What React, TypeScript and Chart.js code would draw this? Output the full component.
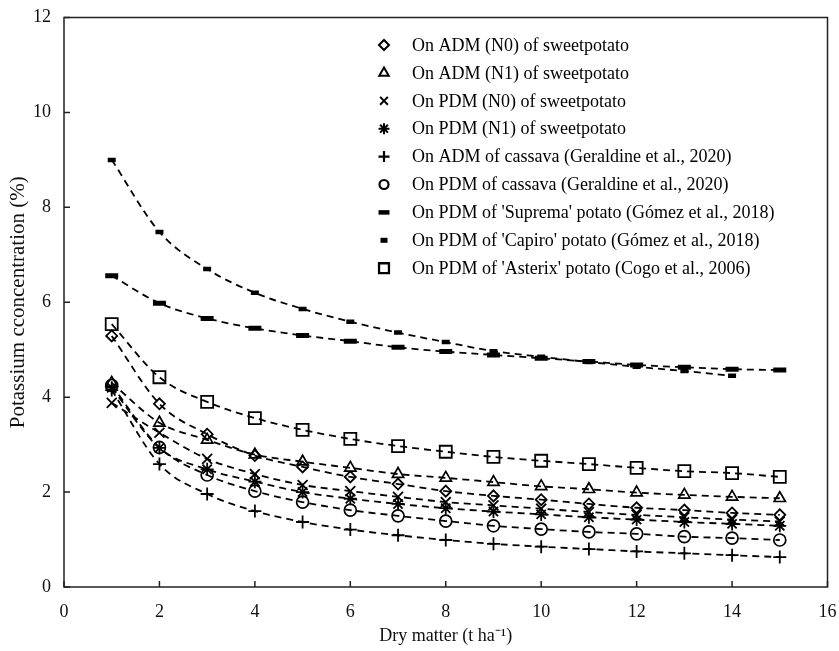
import React, { useEffect, useRef } from 'react';
import { Chart, registerables } from 'chart.js';
import { drawPoint } from 'chart.js/helpers';

Chart.register(...registerables);

// ---- data ----
const dryMatter = [1, 2, 3, 4, 5, 6, 7, 8, 9, 10, 11, 12, 13, 14, 15];
const xTicks = [0, 2, 4, 6, 8, 10, 12, 14, 16];
const yTicks = [0, 2, 4, 6, 8, 10, 12];

const admN0Sweet = [5.29, 3.86, 3.22, 2.77, 2.53, 2.32, 2.17, 2.02, 1.92, 1.84, 1.75, 1.67, 1.62, 1.56, 1.52];
const admN1Sweet = [4.3, 3.46, 3.1, 2.79, 2.64, 2.51, 2.38, 2.3, 2.21, 2.12, 2.06, 1.99, 1.94, 1.9, 1.87];
const pdmN0Sweet = [3.88, 3.25, 2.7, 2.38, 2.15, 2.02, 1.9, 1.79, 1.72, 1.65, 1.58, 1.52, 1.47, 1.42, 1.38];
const pdmN1Sweet = [4.2, 2.93, 2.48, 2.22, 2.0, 1.86, 1.75, 1.66, 1.59, 1.53, 1.47, 1.42, 1.37, 1.33, 1.29];
const admCassava = [4.15, 2.59, 1.96, 1.6, 1.37, 1.21, 1.09, 0.99, 0.91, 0.85, 0.8, 0.75, 0.71, 0.67, 0.63];
const pdmCassava = [4.25, 2.94, 2.36, 2.02, 1.79, 1.62, 1.5, 1.39, 1.29, 1.22, 1.16, 1.12, 1.06, 1.03, 0.99];
const pdmSuprema = [6.56, 5.98, 5.66, 5.45, 5.3, 5.18, 5.05, 4.96, 4.89, 4.82, 4.75, 4.68, 4.63, 4.59, 4.57];
const pdmCapiro = [9.0, 7.48, 6.7, 6.2, 5.86, 5.59, 5.36, 5.16, 4.97, 4.85, 4.74, 4.64, 4.55, 4.45];
const pdmAsterix = [5.54, 4.42, 3.9, 3.56, 3.31, 3.12, 2.97, 2.85, 2.74, 2.66, 2.59, 2.51, 2.44, 2.4, 2.32];

const seriesLabels = [
  'On ADM (N0) of sweetpotato',
  'On ADM (N1) of sweetpotato',
  'On PDM (N0) of sweetpotato',
  'On PDM (N1) of sweetpotato',
  'On ADM of cassava (Geraldine et al., 2020)',
  'On PDM of cassava (Geraldine et al., 2020)',
  "On PDM of 'Suprema' potato (Gómez et al., 2018)",
  "On PDM of 'Capiro' potato (Gómez et al., 2018)",
  "On PDM of 'Asterix' potato (Cogo et al., 2006)",
];
const seriesValues = [
  admN0Sweet, admN1Sweet, pdmN0Sweet, pdmN1Sweet, admCassava,
  pdmCassava, pdmSuprema, pdmCapiro, pdmAsterix,
];

// ---- styles ----
const markerStyles = [
  { pointStyle: 'rectRot', radius: 5.5, width: 1.8, legendRadius: 5, legendWidth: 2 },
  { pointStyle: 'triangle', radius: 6.5, width: 1.7, legendRadius: 5.5, legendWidth: 2 },
  { pointStyle: 'crossRot', radius: 7, width: 1.8, legendRadius: 5.5, legendWidth: 2 },
  { pointStyle: 'star', radius: 6.5, width: 1.8, legendRadius: 5.5, legendWidth: 2 },
  { pointStyle: 'cross', radius: 6.5, width: 1.8, legendRadius: 5.5, legendWidth: 2.2 },
  { pointStyle: 'circle', radius: 6, width: 1.7, legendRadius: 4.5, legendWidth: 2.2 },
  { pointStyle: 'line', radius: 6.5, width: 5, legendRadius: 5.5, legendWidth: 4.5 },
  { pointStyle: 'line', radius: 4, width: 4.5, legendRadius: 3.5, legendWidth: 5 },
  { pointStyle: 'rect', radius: 8.5, width: 1.8, legendRadius: 7, legendWidth: 2.3 },
];

const FONT = '"Liberation Serif", "Times New Roman", serif';

const frameAndLegend = {
  id: 'frameAndLegend',
  afterDraw(chart: any) {
    const { ctx, chartArea } = chart;
    const xs = chart.scales.x;
    const ys = chart.scales.y;
    ctx.save();
    // frame
    ctx.strokeStyle = '#222';
    ctx.lineWidth = 1.5;
    ctx.strokeRect(chartArea.left, chartArea.top, chartArea.right - chartArea.left, chartArea.bottom - chartArea.top);
    // inward ticks
    ctx.beginPath();
    xs.ticks.forEach((t: any) => {
      const px = xs.getPixelForValue(t.value);
      ctx.moveTo(px, chartArea.bottom);
      ctx.lineTo(px, chartArea.bottom - 6);
    });
    ys.ticks.forEach((t: any) => {
      const py = ys.getPixelForValue(t.value);
      ctx.moveTo(chartArea.left, py);
      ctx.lineTo(chartArea.left + 6, py);
    });
    ctx.stroke();
    // legend
    const lx = chartArea.left + 320;
    const ly = chartArea.top + 27.5;
    const step = 27.9;
    chart.data.datasets.forEach((ds: any, i: number) => {
      const m = markerStyles[i];
      const y = ly + i * step;
      ctx.strokeStyle = '#000';
      ctx.fillStyle = 'rgba(0,0,0,0)';
      ctx.lineWidth = m.legendWidth;
      ctx.setLineDash([]);
      drawPoint(ctx, { pointStyle: m.pointStyle, radius: m.legendRadius, rotation: 0, borderWidth: m.legendWidth } as any, lx, y);
      ctx.fillStyle = '#000';
      ctx.font = '18px ' + FONT;
      ctx.textBaseline = 'middle';
      ctx.textAlign = 'left';
      ctx.fillText(ds.label, lx + 28, y + 1);
    });
    ctx.restore();
  },
};

export default function App() {
  const ref = useRef<HTMLCanvasElement>(null);
  useEffect(() => {
    document.body.style.margin = '0';
    const canvas = ref.current!;
    const datasets = seriesValues.map((vals, i) => {
      const m = markerStyles[i];
      return {
        label: seriesLabels[i],
        data: vals.map((v, j) => ({ x: dryMatter[j], y: v })),
        borderColor: '#000',
        backgroundColor: 'rgba(0,0,0,0)',
        borderWidth: 1.8,
        borderDash: [7, 5],
        cubicInterpolationMode: 'monotone' as const,
        pointStyle: m.pointStyle as any,
        pointRadius: m.radius,
        pointBorderWidth: m.width,
        pointBorderColor: '#000',
        pointBackgroundColor: 'rgba(0,0,0,0)',
        fill: false,
      };
    });
    const chart = new Chart(canvas, {
      type: 'line',
      data: { datasets },
      plugins: [frameAndLegend],
      options: {
        responsive: false,
        animation: false,
        devicePixelRatio: 1,
        layout: { padding: { top: 17.5, right: 8, left: 0, bottom: 0 } },
        plugins: { legend: { display: false }, tooltip: { enabled: false } },
        scales: {
          x: {
            type: 'linear',
            min: 0,
            max: 16,
            afterBuildTicks: (s: any) => { s.ticks = xTicks.map((v) => ({ value: v })); },
            afterFit: (s: any) => { s.height = 64; s.paddingLeft = 0; s.paddingRight = 0; },
            grid: { display: false, drawTicks: false },
            border: { display: false },
            ticks: { padding: 14, color: '#111', font: { family: FONT, size: 18 }, maxRotation: 0 },
            title: {
              display: true,
              text: 'Dry matter (t ha⁻¹)',
              color: '#111',
              font: { family: FONT, size: 18 },
              padding: { top: 4, bottom: 4 },
            },
          },
          y: {
            type: 'linear',
            min: 0,
            max: 12,
            afterBuildTicks: (s: any) => { s.ticks = yTicks.map((v) => ({ value: v })); },
            afterFit: (s: any) => { s.width = 64; s.paddingTop = 0; s.paddingBottom = 0; },
            grid: { display: false, drawTicks: false },
            border: { display: false },
            ticks: { padding: 13, color: '#111', font: { family: FONT, size: 18 } },
            title: {
              display: true,
              text: 'Potassium cconcentration (%)',
              color: '#111',
              font: { family: FONT, size: 21 },
              padding: { top: 6, bottom: 6 },
            },
          },
        },
      },
    });
    return () => chart.destroy();
  }, []);
  return (
    <div style={{ width: 839, height: 651, background: '#fff' }}>
      <canvas ref={ref} width={839} height={651} style={{ display: 'block' }} />
    </div>
  );
}
